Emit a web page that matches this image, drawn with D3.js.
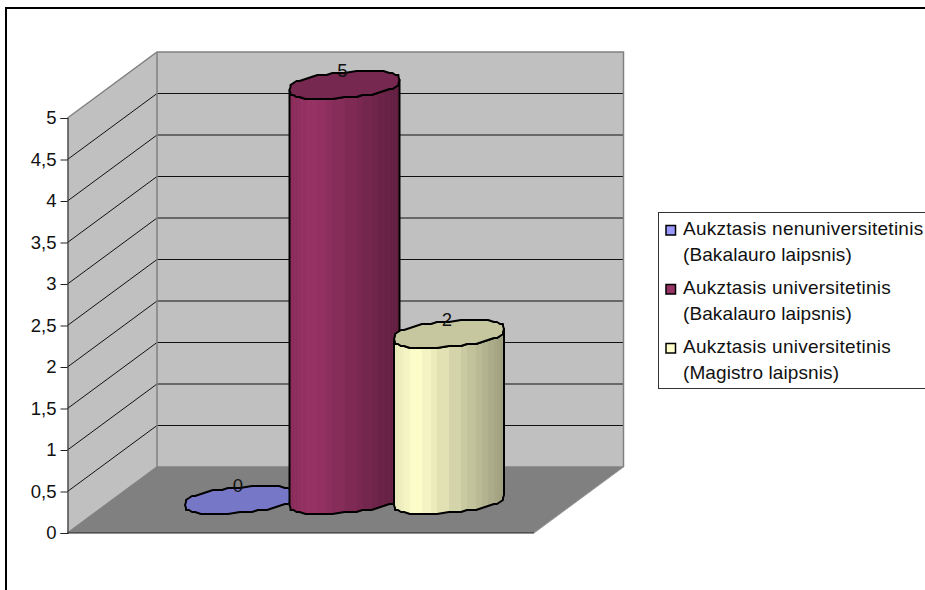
<!DOCTYPE html>
<html>
<head>
<meta charset="utf-8">
<script src="https://cdnjs.cloudflare.com/ajax/libs/d3/7.8.5/d3.min.js"></script>
<style>
  html, body { margin: 0; padding: 0; background: #fff; overflow: hidden; }
  svg { display: block; }
  text { font-family: "Liberation Sans", Arial, sans-serif; fill: #111; }
</style>
</head>
<body>
<svg id="chart" width="925" height="590"></svg>
<script>
var categories = [
  "Aukztasis nenuniversitetinis (Bakalauro laipsnis)",
  "Aukztasis universitetinis (Bakalauro laipsnis)",
  "Aukztasis universitetinis (Magistro laipsnis)"
];
var values = [0, 5, 2];
var seriesColors = ["#9999ff", "#993366", "#ffffcc"];
var tickValues = [0, 0.5, 1, 1.5, 2, 2.5, 3, 3.5, 4, 4.5, 5];
var tickLabels = ["0", "0,5", "1", "1,5", "2", "2,5", "3", "3,5", "4", "4,5", "5"];

var plot = {left: 67.5, right: 534, top: 118, bottom: 533, depthX: 89.5, depthY: 66};
var cyl = {rx: 55, ry: 12.5, tilt: 0.09, segments: 44, roundness: 0.82};

var svg = d3.select("#chart");

var x = d3.scalePoint().domain(categories).range([plot.left - 1, plot.right - 1]).padding(1.232);
var y = d3.scaleLinear().domain([0, 5]).range([plot.bottom, plot.top]);

// outer frame, runs off the right and bottom edges
svg.append("rect")
  .attr("x", 6).attr("y", 8).attr("width", 1000).attr("height", 1000)
  .attr("fill", "#fff").attr("stroke", "#000").attr("stroke-width", 2);

function renderWalls(){
  var d = plot;
  var backLeft = d.left + d.depthX, backRight = d.right + d.depthX;
  var shift = d.depthY;

  svg.append("path")
    .attr("d", d3.line()([[d.left, d.bottom], [d.right, d.bottom], [backRight, d.bottom - shift], [backLeft, d.bottom - shift]]) + "Z")
    .attr("fill", "#808080");

  svg.append("path")
    .attr("d", d3.line()([[d.left, d.top], [backLeft, d.top - shift], [backLeft, d.bottom - shift], [d.left, d.bottom]]) + "Z")
    .attr("fill", "#c0c0c0");

  svg.append("rect")
    .attr("x", backLeft).attr("y", d.top - shift)
    .attr("width", backRight - backLeft).attr("height", d.bottom - d.top)
    .attr("fill", "#c0c0c0");

  // gridlines: along the side wall and across the back wall
  var grid = svg.append("g").attr("stroke", "#111").attr("stroke-width", 1).attr("fill", "none");
  tickValues.slice(1, -1).forEach(function(v){
    grid.append("path").attr("d", d3.line()([
      [d.left, y(v)], [backLeft, y(v) - shift], [backRight, y(v) - shift]
    ]));
  });

  // wall edges
  var edges = svg.append("g").attr("stroke", "#808080").attr("stroke-width", 1.5).attr("fill", "none");
  edges.append("path").attr("d", d3.line()([[d.left, d.top], [backLeft, d.top - shift], [backRight, d.top - shift], [backRight, d.bottom - shift]]));
  edges.append("path").attr("d", d3.line()([[backLeft, d.top - shift], [backLeft, d.bottom - shift]]));
  edges.append("path").attr("d", d3.line()([[d.left, d.bottom], [backLeft, d.bottom - shift], [backRight, d.bottom - shift]]));
  svg.append("path")
    .attr("d", d3.line()([[d.right, d.bottom], [backRight, d.bottom - shift]]))
    .attr("stroke", "#999").attr("stroke-width", 1).attr("fill", "none");
  svg.append("path")
    .attr("d", d3.line()([[d.left, d.bottom], [d.right, d.bottom]]))
    .attr("stroke", "#222").attr("stroke-width", 1.2);
}

function renderAxis(){
  var axis = d3.axisLeft(y)
    .tickValues(tickValues)
    .tickSize(7)
    .tickPadding(4)
    .tickFormat(function(v, i){ return tickLabels[i]; });

  var g = svg.append("g")
    .attr("transform", "translate(" + plot.left + ",0)")
    .call(axis);

  g.select(".domain").attr("stroke", "#333").attr("stroke-width", 1.2);
  g.selectAll(".tick line").attr("stroke", "#222");
  g.selectAll(".tick text").attr("font-size", 18.5).attr("fill", "#111")
    .attr("font-family", '"Liberation Sans", Arial, sans-serif');
}

function bulge(v){
  return (v < 0 ? -1 : 1) * Math.pow(Math.abs(v), cyl.roundness);
}

// Outline of a cylinder cap around (0,0). The vertices snap to a coarse grid,
// which gives the rim its slightly faceted look.
function rimPoints(){
  var pts = [];
  for(var i = 0; i < cyl.segments; i++){
    var t = i / cyl.segments * 2 * Math.PI;
    var px = cyl.rx * bulge(Math.cos(t));
    var py = cyl.ry * bulge(Math.sin(t)) - cyl.tilt * px;
    var isEnd = i === 0 || i === cyl.segments / 2;
    pts.push({
      t: t,
      x: isEnd ? px : Math.round(px / 3) * 3,
      y: isEnd ? py : Math.round(py / 2) * 2
    });
  }
  return pts;
}

var shade = d3.scaleLinear().domain([0, 0.2, 1]).range([0.9, 1, 0.62]);

function scaled(color, k){
  var c = d3.rgb(color);
  return d3.rgb(c.r * k, c.g * k, c.b * k).formatHex();
}

function renderCylinders(){
  var rim = rimPoints();
  var half = cyl.segments / 2;
  var front = rim.slice(0, half + 1);   // right end round the front to the left end
  var line = d3.line().x(function(p){ return p.x; }).y(function(p){ return p.y; });

  var node = svg.selectAll(".cylinder")
    .data(categories)
    .enter().append("g")
    .attr("class", "cylinder")
    .attr("transform", function(c){
      return "translate(" + (x(c) + plot.depthX / 2) + "," + (plot.bottom - plot.depthY / 2) + ")";
    });

  node.each(function(c, i){
    var g = d3.select(this);
    var h = y(0) - y(values[i]);

    if(h > 0){
      var wall = front.map(function(p){ return {x: p.x, y: p.y}; })
        .concat(front.slice().reverse().map(function(p){ return {x: p.x, y: p.y - h}; }));

      g.append("path").attr("d", line(wall) + "Z").attr("fill", scaled(seriesColors[i], 0.85));

      // side wall facets, lit from the left
      for(var k = 0; k < half; k++){
        var a = front[k], b = front[k + 1];
        var f = (a.x + b.x + 2 * cyl.rx) / (4 * cyl.rx);
        g.append("path")
          .attr("d", line([a, b, {x: b.x, y: b.y - h}, {x: a.x, y: a.y - h}]) + "Z")
          .attr("fill", scaled(seriesColors[i], shade(f)));
      }

      g.append("path").attr("d", line(wall) + "Z")
        .attr("fill", "none").attr("stroke", "#000").attr("stroke-width", 2).attr("stroke-linejoin", "round");
    }

    g.append("path")
      .attr("d", line(rim.map(function(p){ return {x: p.x, y: p.y - h}; })) + "Z")
      .attr("fill", scaled(seriesColors[i], 0.78))
      .attr("stroke", "#000").attr("stroke-width", 2).attr("stroke-linejoin", "round");

    g.append("text")
      .attr("x", -2)
      .attr("y", -h - 8)
      .attr("text-anchor", "middle")
      .attr("font-size", 18.5)
      .text(values[i]);
  });
}

function renderLegend(){
  var legend = svg.append("g");

  legend.append("rect")
    .attr("x", 658.5).attr("y", 212.5).attr("width", 400).attr("height", 176)
    .attr("fill", "#fff").attr("stroke", "#333").attr("stroke-width", 1);

  var item = legend.selectAll(".item")
    .data(categories)
    .enter().append("g")
    .attr("class", "item")
    .attr("transform", function(c, i){ return "translate(0," + (59 * i) + ")"; });

  item.append("rect")
    .attr("x", 666).attr("y", 225.5).attr("width", 9.5).attr("height", 9.5)
    .attr("fill", function(c, i){ return seriesColors[i]; })
    .attr("stroke", "#000").attr("stroke-width", 1.5);

  item.append("text")
    .attr("x", 683).attr("y", 235)
    .attr("font-size", 19)
    .attr("letter-spacing", 0.25)
    .text(function(c){ return c.split(" (")[0]; });

  item.append("text")
    .attr("x", 683).attr("y", 261)
    .attr("font-size", 19)
    .attr("letter-spacing", 0.1)
    .text(function(c){ return "(" + c.split(" (")[1]; });
}

renderWalls();
renderAxis();
renderCylinders();
renderLegend();
</script>
</body>
</html>
